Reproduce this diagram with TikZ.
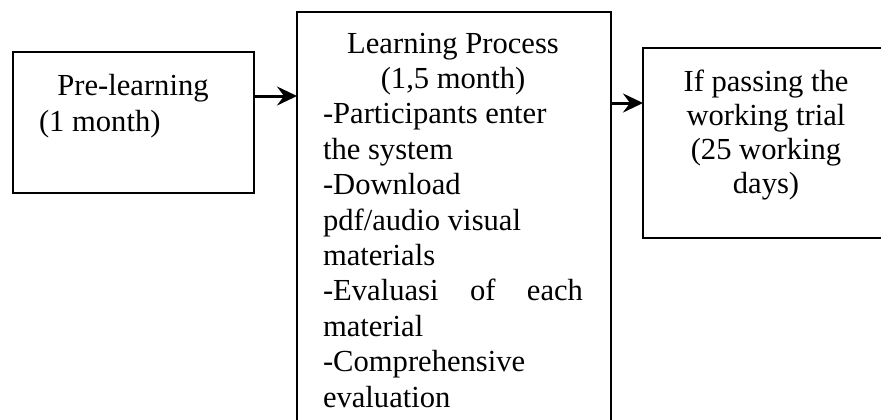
\documentclass[tikz,border=0pt]{standalone}
\usepackage{fontspec}
\setmainfont{Liberation Serif}
\usetikzlibrary{arrows.meta}
\tikzset{
  box/.style={draw=black, line width=1.4pt, rectangle, inner sep=0pt, outer sep=0pt, anchor=north west},
  txt/.style={inner sep=0pt, outer sep=0pt, font=\fontsize{15.3}{17.7}\selectfont},
  arr/.style={line width=1.5pt, -{Stealth[length=10pt, width=9.5pt, inset=3.5pt]}}
}
\begin{document}
\begin{tikzpicture}[x=0.5pt, y=-0.5pt]
\useasboundingbox (0,0) rectangle (881,419);
\clip (0,0) rectangle (881,419);
% boxes
\node[box, minimum width=120.5pt, minimum height=70.5pt] (pre) at (13,52) {};
\node[box, minimum width=157pt, minimum height=220pt] (proc) at (297,12) {};
\node[box, minimum width=130pt, minimum height=95pt] (pass) at (643,48) {};
% texts
\node[txt, anchor=base west] (pretxt) at (39,95) {\parbox[t]{94pt}{\fontsize{15.3}{18}\selectfont
  \makebox[\linewidth]{Pre-learning}\\(1 month)}};
\node[txt, anchor=base west] (proctxt) at (323,53) {\parbox[t]{130pt}{\fontsize{15.3}{17.7}\selectfont\raggedright
  \makebox[\linewidth]{Learning Process}\\
  \makebox[\linewidth]{(1,5 month)}\\
  -Participants enter\\
  the system\\
  -Download\\
  pdf/audio visual\\
  materials\\
  \makebox[\linewidth][s]{-Evaluasi of each}\\
  material\\
  -Comprehensive\\
  evaluation}};
\node[txt, anchor=base] (passtxt) at (766,91) {\parbox[t]{100pt}{\fontsize{15.3}{17}\selectfont\centering
  If passing the\\working trial\\(25 working\\days)}};
% connectors
\coordinate (ya) at (0,96);
\coordinate (yb) at (0,103);
\draw[arr] (pre.east |- ya) -- (proc.west |- ya);
\draw[arr] (proc.east |- yb) -- (pass.west |- yb);
\end{tikzpicture}
\end{document}
